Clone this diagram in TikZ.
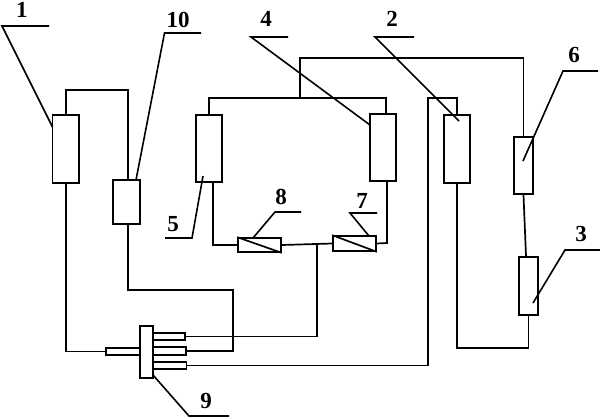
\documentclass[tikz,border=0pt]{standalone}
\usepackage{fontspec}
\setmainfont{Liberation Serif}
\usepackage{tikz}
\tikzset{
    part/.style={draw, line width=1.7pt, rectangle, inner sep=0pt},
    pipe/.style={line width=1.7pt, line join=miter},
    leader/.style={line width=1.6pt, line join=miter},
    numlabel/.style={inner sep=0pt, font=\fontsize{23}{23}\selectfont\bfseries}
}
\begin{document}
\begin{tikzpicture}[x=1pt, y=-1pt]
        \useasboundingbox (0,0) rectangle (600,418);
        \foreach \name/\cx/\cy/\w/\h in {box1/65.75/149/26.5/68, boxten/126.5/202/27/44, box5/209/148.5/26/67, box4/383/147.5/26/67,
            box2/457/149/26/68, box6/523.5/165.5/19/57, box3/528.5/286/19/58, valveh/259.5/245/43/14, valves/354.5/243.5/43/15,
            block/146.5/352/13/52, portin/123/351.5/34/7, porta/169/336.5/32/7, portb/169.5/351/33/8, portc/169.75/365.5/33.5/7} {
            \node[part, minimum width=\w pt, minimum height=\h pt] (\name) at (\cx,\cy) {};
        }
        \draw[pipe] (valveh.north west) -- (valveh.south east);
        \draw[pipe] (valves.north west) -- (valves.south east);
        \coordinate (topa) at (65.75,90);
        \coordinate (topb) at (127.75,90);
        \coordinate (midc) at (127.75,290);
        \coordinate (midd) at (233,290);
        \coordinate (midf) at (233,351);
        \coordinate (teev) at (317,244);
        \coordinate (teew) at (317,336.5);
        \coordinate (riserb) at (428,365.5);
        \coordinate (riserc) at (428,98);
        \coordinate (riserd) at (457,98);
        \coordinate (lowa) at (457,348);
        \coordinate (lowb) at (528.5,348);
        \coordinate (hia) at (523.5,58);
        \coordinate (hib) at (300,58);
        \coordinate (hic) at (300,98);
        \coordinate (coila) at (209,98);
        \coordinate (coilb) at (386,98);
        \coordinate (coilc) at (213,245);
        \coordinate (coild) at (387,243);
        \draw[pipe] (box1.north) -- (topa) -- (topb) -- ([xshift=1.25pt]boxten.north);
        \draw[pipe] (box1.south) |- (portin.west);
        \draw[pipe] ([xshift=1.25pt]boxten.south) -- (midc) -- (midd) -- (midf) -- (portb.east);
        \draw[pipe] (porta.east) -- (teew) -- (teev);
        \draw[pipe] (portc.east) -- (riserb) -- (riserc) -- (riserd) -- (box2.north);
        \draw[pipe] (box2.south) -- (lowa) -- (lowb) -- (box3.south);
        \draw[pipe] ([xshift=-2.5pt]box3.north) -- (box6.south);
        \draw[pipe] (box6.north) -- (hia) -- (hib) -- (hic);
        \draw[pipe] (box5.north) -- (coila) -- (coilb) -- ([xshift=3pt]box4.north);
        \draw[pipe] ([xshift=4pt]box5.south) -- (coilc) -- (valveh.west);
        \draw[pipe] (valveh.east) -- (valves.west);
        \draw[pipe] (valves.east) -- (coild) -- ([xshift=4pt]box4.south);
        \foreach \num/\lx/\ly/\ax/\ay/\bx/\by/\ex/\ey in {1/22/10/49/26/2/26/52.5/127, 10/178/20/201/33/164.5/33/136/180,
            4/266/19/288/37/251/37/370/125, 2/392/19/414/37/375/37/459/121, 6/574/55/598/71/563/71/523/161,
            3/581/234/600/250/565/250/533/303, 5/173/224/165/238/192/238/203/176, 8/281/197/301/212/275/212/253/238,
            7/362/201/377/213/350/213/369/236, 9/206/401/229/416/189/416/153/375} {
            \node[numlabel] (lab\num) at (\lx,\ly) {\num};
            \coordinate (lead\num a) at (\ax,\ay);
            \coordinate (lead\num b) at (\bx,\by);
            \coordinate (lead\num c) at (\ex,\ey);
            \draw[leader] (lead\num a) -- (lead\num b) -- (lead\num c);
        }
\end{tikzpicture}
\end{document}
